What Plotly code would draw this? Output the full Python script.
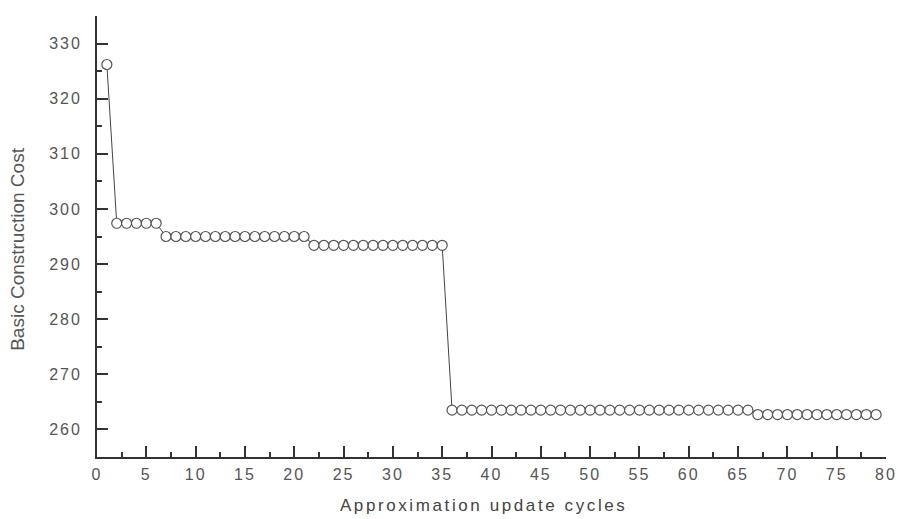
import plotly.graph_objects as go

cycles = [1, 2, 3, 4, 5, 6, 7, 8, 9, 10, 11, 12, 13, 14, 15, 16, 17, 18, 19, 20,
          21, 22, 23, 24, 25, 26, 27, 28, 29, 30, 31, 32, 33, 34, 35, 36, 37, 38, 39, 40,
          41, 42, 43, 44, 45, 46, 47, 48, 49, 50, 51, 52, 53, 54, 55, 56, 57, 58, 59, 60,
          61, 62, 63, 64, 65, 66, 67, 68, 69, 70, 71, 72, 73, 74, 75, 76, 77, 78, 79]

cost = [326.2,
        297.4, 297.4, 297.4, 297.4, 297.4,
        295.0, 295.0, 295.0, 295.0, 295.0, 295.0, 295.0, 295.0, 295.0, 295.0,
        295.0, 295.0, 295.0, 295.0, 295.0,
        293.4, 293.4, 293.4, 293.4, 293.4, 293.4, 293.4, 293.4, 293.4, 293.4,
        293.4, 293.4, 293.4, 293.4,
        263.5, 263.5, 263.5, 263.5, 263.5, 263.5, 263.5, 263.5, 263.5, 263.5,
        263.5, 263.5, 263.5, 263.5, 263.5, 263.5, 263.5, 263.5, 263.5, 263.5,
        263.5, 263.5, 263.5, 263.5, 263.5, 263.5, 263.5, 263.5, 263.5, 263.5,
        263.5,
        262.7, 262.7, 262.7, 262.7, 262.7, 262.7, 262.7, 262.7, 262.7, 262.7,
        262.7, 262.7, 262.7]

x_ticks = [0, 5, 10, 15, 20, 25, 30, 35, 40, 45, 50, 55, 60, 65, 70, 75, 80]
y_ticks = [260, 270, 280, 290, 300, 310, 320, 330]

x_title = "Approximation update cycles"
y_title = "Basic Construction Cost"

fig = go.Figure()
fig.add_trace(go.Scatter(
    x=cycles, y=cost, mode="lines+markers",
    line=dict(color="#444444", width=1),
    marker=dict(symbol="circle", size=10, color="white",
                line=dict(color="#555555", width=1.2)),
    showlegend=False,
))

font_family = "Liberation Sans, Arial, sans-serif"
axis_common = dict(
    showline=True, linecolor="#333333", linewidth=1.8,
    ticks="inside", tickcolor="#333333", tickwidth=1.5, ticklen=11,
    showgrid=False, zeroline=False, mirror=False, automargin=False,
    tickfont=dict(family=font_family, size=16, color="#555555"),
)

fig.update_xaxes(
    range=[0, 80], tickvals=x_ticks, ticklabelstandoff=2,
    minor=dict(ticks="inside", ticklen=5, tickwidth=1.5, tickcolor="#333333", dtick=2.5, tick0=0, showgrid=False),
    **axis_common,
)
fig.update_yaxes(
    range=[255, 335], tickvals=y_ticks, ticklabelstandoff=10,
    minor=dict(ticks="inside", ticklen=5, tickwidth=1.5, tickcolor="#333333", dtick=5, tick0=255, showgrid=False),
    **axis_common,
)

fig.add_annotation(
    text=x_title, xref="paper", yref="paper", x=0.49, y=-0.111,
    xanchor="center", yanchor="middle", showarrow=False,
    font=dict(family=font_family, size=17, color="#444444"),
)
fig.add_annotation(
    text=y_title, xref="paper", yref="paper", x=-0.1, y=0.47,
    xanchor="center", yanchor="middle", showarrow=False, textangle=-90,
    font=dict(family=font_family, size=19, color="#555555"),
)

fig.update_layout(
    width=898, height=519,
    margin=dict(l=97, r=12, t=16, b=62),
    paper_bgcolor="white", plot_bgcolor="white",
)

page_css = (
    "document.body.style.margin='0';"
    "document.head.insertAdjacentHTML('beforeend',"
    "'<style>body{margin:0;} .xtick text, .ytick text {letter-spacing:2px;}"
    " .annotation[data-index=\"0\"] .annotation-text {letter-spacing:2.6px;}</style>');"
)

fig.write_html("out.html", post_script=page_css, config={"displayModeBar": False})
